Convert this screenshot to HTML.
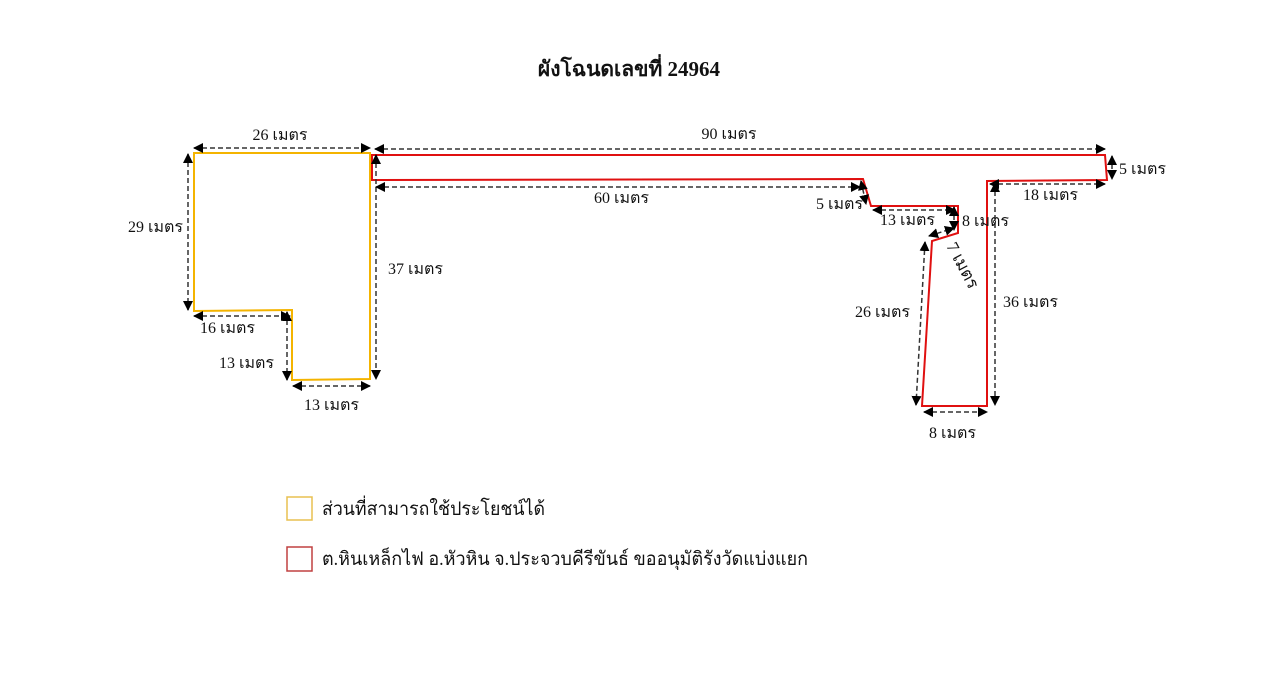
<!DOCTYPE html>
<html><head><meta charset="utf-8"><style>
body{margin:0;background:#fff;}
svg{display:block}
text{font-family:"Liberation Serif","DejaVu Serif",serif;font-size:16px;fill:#111}
</style></head><body>
<svg width="1280" height="690" viewBox="0 0 1280 690" xmlns="http://www.w3.org/2000/svg">
<defs>
<marker id="a" viewBox="0 0 10 10" refX="9" refY="5" markerWidth="10" markerHeight="10" markerUnits="userSpaceOnUse" orient="auto-start-reverse"><path d="M0,0 L10,5 L0,10 z" fill="#000"/></marker>
</defs>
<text x="629" y="76" text-anchor="middle" style="font-size:21px;font-weight:bold">ผังโฉนดเลขที่ 24964</text>

<polygon points="194,153 370,153 370,379 292,380 292,310 194,311" fill="none" stroke="#f4b400" stroke-width="2"/>
<polygon points="372,155 1105,155 1107,180 987,181 987,406 922,406 932,241 958,233 958,206 871,206 863,179 372,180" fill="none" stroke="#e01010" stroke-width="2"/>

<g stroke="#333" stroke-width="1.5" stroke-dasharray="5,3" fill="none" marker-start="url(#a)" marker-end="url(#a)">
<line x1="194" y1="148" x2="370" y2="148"/>
<line x1="188" y1="154" x2="188" y2="310"/>
<line x1="376" y1="155" x2="376" y2="379"/>
<line x1="194" y1="316" x2="290" y2="316"/>
<line x1="287" y1="312" x2="287" y2="380"/>
<line x1="293" y1="386" x2="370" y2="386"/>
<line x1="375" y1="149" x2="1105" y2="149"/>
<line x1="376" y1="187" x2="860" y2="187"/>
<line x1="861" y1="181" x2="866" y2="204"/>
<line x1="1112" y1="156" x2="1112" y2="179"/>
<line x1="990" y1="184" x2="1105" y2="184"/>
<line x1="873" y1="210" x2="955" y2="210"/>
<line x1="954" y1="207" x2="954" y2="230"/>
<line x1="929" y1="236" x2="954" y2="228"/>
<line x1="925" y1="242" x2="916" y2="405"/>
<line x1="995" y1="183" x2="995" y2="405"/>
<line x1="924" y1="412" x2="987" y2="412"/>
</g>

<text x="280" y="140" text-anchor="middle">26 เมตร</text>
<text x="128" y="232">29 เมตร</text>
<text x="388" y="274">37 เมตร</text>
<text x="200" y="333">16 เมตร</text>
<text x="219" y="368">13 เมตร</text>
<text x="304" y="410">13 เมตร</text>
<text x="729" y="139" text-anchor="middle">90 เมตร</text>
<text x="594" y="203">60 เมตร</text>
<text x="816" y="209">5 เมตร</text>
<text x="1119" y="174">5 เมตร</text>
<text x="1023" y="200">18 เมตร</text>
<text x="880" y="225">13 เมตร</text>
<text x="962" y="226">8 เมตร</text>
<text x="0" y="0" transform="translate(946,246) rotate(62)" style="font-size:17px">7 เมตร</text>
<text x="855" y="317">26 เมตร</text>
<text x="1003" y="307">36 เมตร</text>
<text x="929" y="438">8 เมตร</text>

<rect x="287" y="497" width="25" height="23" fill="none" stroke="#e8c050" stroke-width="1.5"/>
<text x="322" y="515" style="font-size:19px" textLength="223" lengthAdjust="spacingAndGlyphs">ส่วนที่สามารถใช้ประโยชน์ได้</text>
<rect x="287" y="547" width="25" height="24" fill="none" stroke="#c04040" stroke-width="1.5"/>
<text x="322" y="565" style="font-size:19px" textLength="486" lengthAdjust="spacingAndGlyphs">ต.หินเหล็กไฟ อ.หัวหิน จ.ประจวบคีรีขันธ์ ขออนุมัติรังวัดแบ่งแยก</text>
</svg>
</body></html>
